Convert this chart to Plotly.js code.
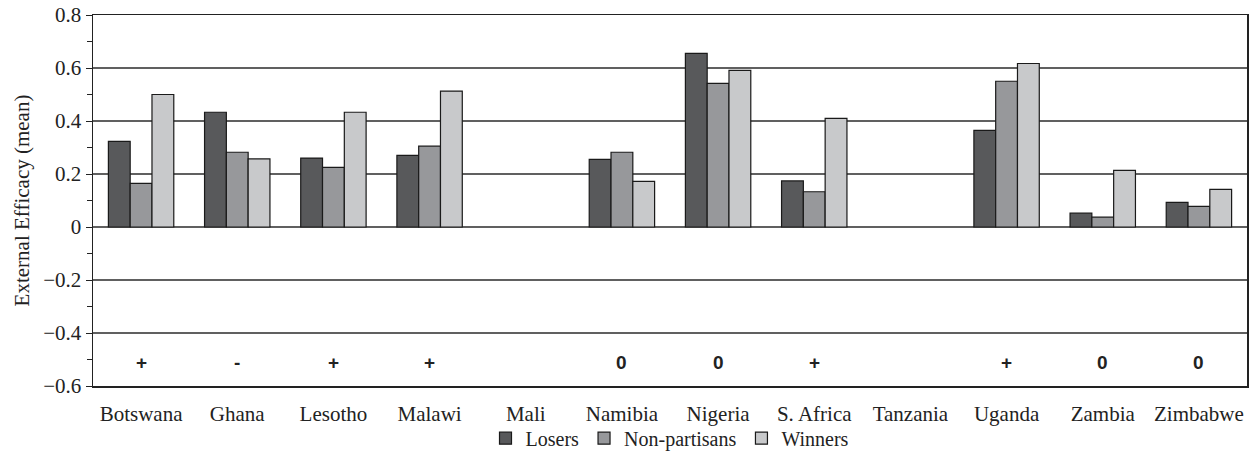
<!DOCTYPE html>
<html>
<head>
<meta charset="utf-8">
<script src="https://cdn.plot.ly/plotly-3.0.1.min.js"></script>
<style>body{margin:0;padding:0;background:#fff;} #chart{width:1249px;height:460px;}</style>
</head>
<body>
<div id="chart"></div>
<script>
const countries = ["Botswana","Ghana","Lesotho","Malawi","Mali","Namibia","Nigeria","S. Africa","Tanzania","Uganda","Zambia","Zimbabwe"];
const losers = [0.323,0.433,0.26,0.27,null,0.255,0.655,0.174,null,0.365,0.052,0.093];
const nonPartisans = [0.165,0.282,0.225,0.305,null,0.282,0.542,0.133,null,0.55,0.037,0.078];
const winners = [0.50,0.257,0.433,0.513,null,0.172,0.591,0.41,null,0.617,0.214,0.142];
const signs = ["+","-","+","+","","0","0","+","","+","0","0"];
const signY = -0.51;
const yTickVals = [-0.6,-0.4,-0.2,0,0.2,0.4,0.6,0.8];
const yTickText = ["\u22120.6","\u22120.4","\u22120.2","0","0.2","0.4","0.6","0.8"];

const SERIF = "Liberation Serif, Times New Roman, serif";

const traces = [
  {name:"Losers", y:losers, color:"#58595b"},
  {name:"Non-partisans", y:nonPartisans, color:"#97989b"},
  {name:"Winners", y:winners, color:"#c8c9cb"}
].map(s => ({
  type:"bar", name:s.name, x:countries, y:s.y,
  marker:{color:s.color, line:{color:"#1a1a1a", width:1.2}},
  hoverinfo:"skip"
}));

const annotations = countries.map((c,i) => ({
  x:c, y:signY, xref:"x", yref:"y", text:"<b>"+signs[i]+"</b>", showarrow:false,
  font:{family:"Liberation Sans, Arial, sans-serif", size:19, color:"#222"}
})).filter((a,i) => signs[i] !== "");

const layout = {
  width:1249, height:460,
  margin:{l:93, r:2, t:15, b:74, autoexpand:false},
  paper_bgcolor:"#fff", plot_bgcolor:"#fff",
  barmode:"group", bargap:0.32, bargroupgap:0,
  font:{family:SERIF, size:20, color:"#222"},
  xaxis:{
    type:"category", showgrid:false, zeroline:false,
    showline:true, linecolor:"#222", linewidth:1.5, mirror:true,
    ticks:"", tickfont:{family:SERIF, size:21}, ticklabelstandoff:8, automargin:false
  },
  yaxis:{
    range:[-0.6,0.8], automargin:false,
    tickvals:yTickVals, ticktext:yTickText,
    showgrid:true, gridcolor:"#606060", gridwidth:2,
    zeroline:true, zerolinecolor:"#606060", zerolinewidth:2,
    showline:true, linecolor:"#222", linewidth:1.5, mirror:true,
    ticks:"outside", ticklen:6, tickcolor:"#222", tickwidth:1,
    minor:{dtick:0.1, tick0:0, ticks:"outside", ticklen:5, tickcolor:"#222", showgrid:false},
    tickfont:{family:SERIF, size:21},
    title:{text:"External Efficacy (mean)", font:{family:SERIF, size:21}, standoff:8}
  },
  legend:{orientation:"h", x:0.5, xanchor:"center", y:-0.088, yanchor:"top",
    bgcolor:"rgba(0,0,0,0)",
    font:{family:SERIF, size:20}, itemwidth:30, traceorder:"normal"},
  annotations:annotations,
  showlegend:true
};

Plotly.newPlot("chart", traces, layout, {displayModeBar:false, staticPlot:true});
</script>
</body>
</html>
